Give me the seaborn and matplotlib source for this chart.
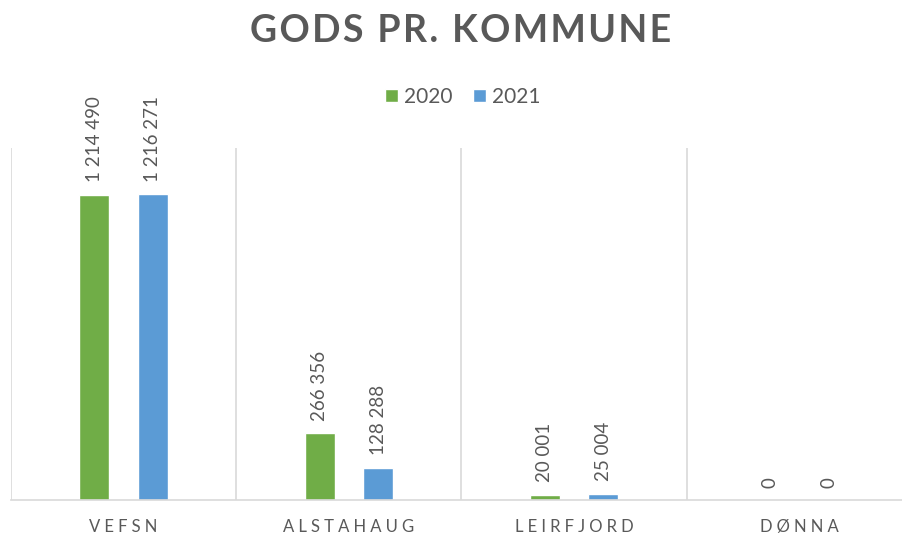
import seaborn as sns
import matplotlib.pyplot as plt
import pandas as pd

# data
kommuner = ["VEFSN", "ALSTAHAUG", "LEIRFJORD", "DØNNA"]
aar = ["2020", "2021"]
gods_2020 = [1214490, 266356, 20001, 0]
gods_2021 = [1216271, 128288, 25004, 0]

df = pd.DataFrame({
    "kommune": kommuner * 2,
    "aar": [aar[0]] * 4 + [aar[1]] * 4,
    "gods": gods_2020 + gods_2021,
})

sns.set_theme(style="white")
plt.rcParams["font.family"] = ["Lato", "DejaVu Sans"]

grey = "#595959"
farger = {"2020": "#70AD47", "2021": "#5B9BD5"}

def spaced(s, sep="\u200a"):
    return sep.join(s)

fig = plt.figure(figsize=(9.02, 5.40), dpi=100)
ax = fig.add_axes([11 / 902, 40 / 540, 901 / 902, 352 / 540])

sns.barplot(data=df, x="kommune", y="gods", hue="aar", palette=farger,
            saturation=1, width=0.52, gap=0.49, ax=ax)

for c in ax.containers:
    labels = [f"{int(b.get_height()):,}".replace(",", " ") for b in c]
    ax.bar_label(c, labels=labels, rotation=90, padding=9, color=grey, fontsize=13.5)

ax.set_ylim(0, 1.4e6)
ax.set_xlim(-0.5, 3.5)
ax.set_yticks([])
ax.set_xlabel("")
ax.set_ylabel("")
ax.set_xticks(range(len(kommuner)))
ax.set_xticklabels([spaced(k, "\u2005") for k in kommuner], color=grey, fontsize=12)
ax.tick_params(axis="x", length=0, pad=14)

# category separators
ax.set_xticks([-0.5, 0.5, 1.5, 2.5], minor=True)
ax.tick_params(axis="x", which="minor", length=0)
ax.grid(axis="x", which="minor", color="#D9D9D9", linewidth=1.2)
ax.grid(axis="x", which="major", visible=False)

for s in ["top", "right", "left"]:
    ax.spines[s].set_visible(False)
ax.spines["bottom"].set_color("#D9D9D9")
ax.spines["bottom"].set_linewidth(1.2)

sns.move_legend(ax, "center", bbox_to_anchor=(452 / 901, 1.145), ncol=2,
                frameon=False, title=None, fontsize=15, handlelength=0.6,
                handleheight=0.6, handletextpad=0.3, columnspacing=1.0)
for t in ax.get_legend().get_texts():
    t.set_color(grey)

fig.text(461 / 902, 1 - 31 / 540, spaced("GODS PR. KOMMUNE", "\u200a"),
         ha="center", va="center", fontsize=27, fontweight="bold", color=grey)

fig.savefig("out.png", dpi=100)
